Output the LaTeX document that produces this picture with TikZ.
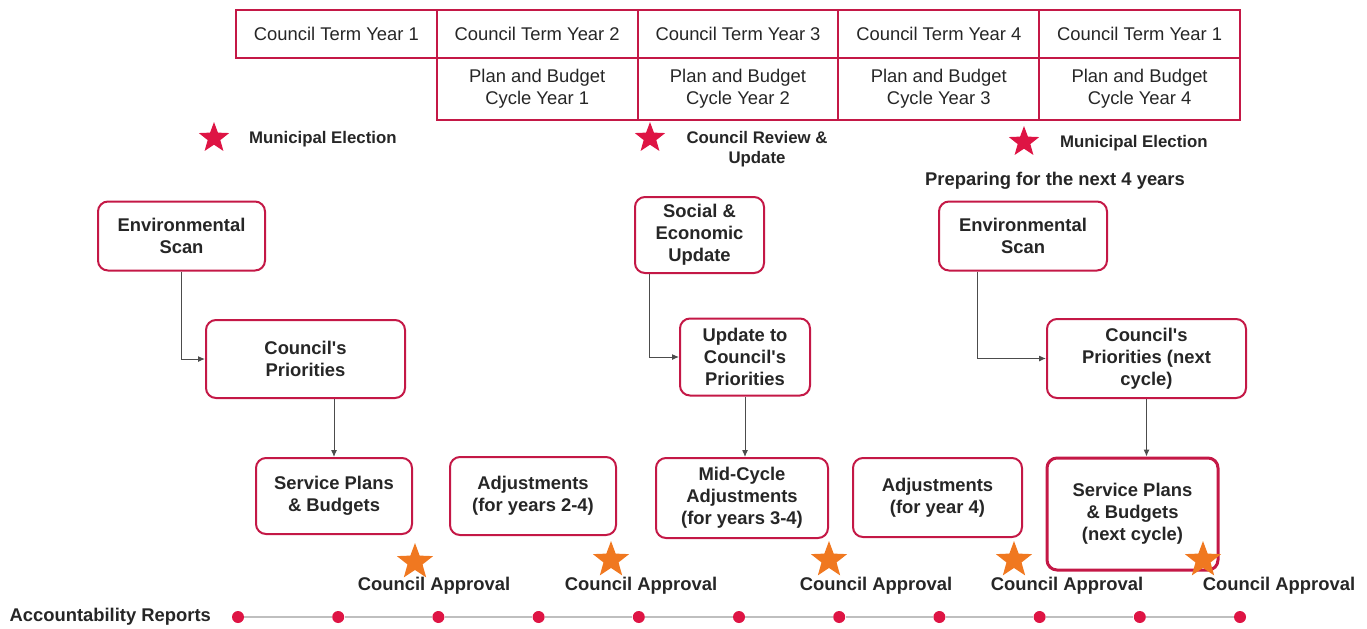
\documentclass[tikz,border=0pt]{standalone}
\usepackage{fontspec}
\setmainfont{Liberation Sans}
\usetikzlibrary{arrows.meta,shapes.geometric}
\definecolor{cellred}{RGB}{196,24,70}
\definecolor{starred}{RGB}{222,20,68}
\definecolor{starorange}{RGB}{240,120,32}

\begin{document}
\begin{tikzpicture}[x=0.5pt, y=-0.5pt, font=\fontsize{9.2}{11}\selectfont, text=black!85,
  cell/.style={draw=cellred, line width=1pt, minimum width=100.4pt, inner sep=0pt, align=center},
  stage/.style={draw=cellred, line width=1pt, rounded corners=5pt, align=center, inner sep=0pt,
    font=\fontsize{9.2}{10.9}\selectfont\bfseries},
  redstar/.style={star, star points=5, star point ratio=2.4, fill=starred, minimum size=16pt, inner sep=0pt},
  orstar/.style={star, star points=5, star point ratio=2.4, fill=starorange, minimum size=19pt, inner sep=0pt},
  link/.style={draw=black!70, line width=0.5pt, -{Latex[length=3.5pt,width=3pt]}},
  dot/.style={circle, fill=starred, minimum size=6pt, inner sep=0pt},
  lbl/.style={font=\fontsize{9.2}{11}\selectfont\bfseries},
  smalllbl/.style={font=\fontsize{8.4}{10}\selectfont\bfseries, align=center}]
  \useasboundingbox (0,0) rectangle (1367,628);
  % council term row
  \foreach \c/\cx/\yr in {1/336.4/1,2/537.2/2,3/738/3,4/938.8/4,5/1139.6/1}
    \node[cell, minimum height=24pt] (term\c) at (\cx,34) {Council Term Year \yr};
  % plan and budget cycle row
  \foreach \c/\cx in {1/537.2,2/738,3/938.8,4/1139.6}
    \node[cell, minimum height=31pt] (cycle\c) at (\cx,89) {Plan and Budget\\Cycle Year \c};
  % elections and review
  \node[redstar] (elect1) at (214,138) {};
  \node[smalllbl, anchor=west] (electlbl1) at (242,139) {Municipal Election};
  \node[redstar] (review) at (650,138) {};
  \node[smalllbl] (reviewlbl) at (757,149) {Council Review \&\\Update};
  \node[redstar] (elect2) at (1024,142) {};
  \node[smalllbl, anchor=west] (electlbl2) at (1053,143) {Municipal Election};
  \node[lbl] (preparing) at (1055,181) {Preparing for the next 4 years};
  % first cycle
  \node[stage, minimum width=83.5pt, minimum height=34.5pt] (scan1) at (181.5,236) {Environmental\\Scan};
  \node[stage, minimum width=99.5pt, minimum height=39pt] (prio1) at (305.5,359) {Council\textquotesingle s\\Priorities};
  \node[stage, minimum width=78pt, minimum height=38pt] (plan1) at (334,496) {Service Plans\\\& Budgets};
  \node[stage, minimum width=83pt, minimum height=39pt] (adjust1) at (533,496) {Adjustments\\(for years 2-4)};
  % mid-cycle review
  \node[stage, minimum width=64.5pt, minimum height=38pt] (socio) at (699.5,235) {Social \&\\Economic\\Update};
  \node[stage, minimum width=65pt, minimum height=38.5pt] (update) at (745,357) {Update to\\Council\textquotesingle s\\Priorities};
  \node[stage, minimum width=86pt, minimum height=40pt] (midcycle) at (742,498) {Mid-Cycle\\Adjustments\\(for years 3-4)};
  % next cycle
  \node[stage, minimum width=84pt, minimum height=34.5pt] (scan2) at (1023,236) {Environmental\\Scan};
  \node[stage, minimum width=99.5pt, minimum height=39.5pt] (prio2) at (1146.5,358.5) {Council\textquotesingle s\\Priorities (next\\cycle)};
  \node[stage, minimum width=84.5pt, minimum height=39.5pt] (adjust2) at (937.5,497.5) {Adjustments\\(for year 4)};
  \node[stage, minimum width=85.5pt, minimum height=56pt, line width=1.5pt] (plan2) at (1132.5,514) {Service Plans\\\& Budgets\\(next cycle)};
  % connectors
  \draw[link] (scan1) |- (prio1);
  \draw[link] (plan1.north |- prio1.south) -- (plan1);
  \draw[link] ([xshift=7.5pt]socio.south west) |- (update);
  \draw[link] (update) -- (update |- midcycle.north);
  \draw[link] ([xshift=19.5pt]scan2.south west) |- (prio2);
  \draw[link] (prio2) -- (prio2 |- plan2.north);
  % council approvals
  \foreach \k/\sx/\sy/\lx in {1/415/562/434,2/611/560/641,3/829/560/876,4/1014/560/1067,5/1203/560/1279}{
    \node[orstar] (approve\k) at (\sx,\sy) {};
    \node[lbl] (approvelbl\k) at (\lx,586) {Council Approval};}
  % accountability reports
  \node[lbl, anchor=east] (reports) at (218,617) {Accountability Reports};
  \foreach \k in {0,...,10}
    \node[dot] (report\k) at (238+100.2*\k,617) {};
  \foreach \k [count=\j] in {0,...,9}
    \draw[black!25, line width=1pt] (report\k) -- (report\j);
\end{tikzpicture}
\end{document}
